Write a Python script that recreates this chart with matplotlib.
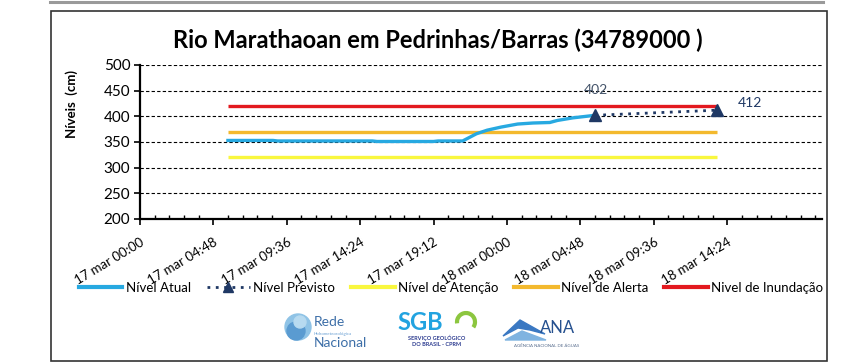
import matplotlib
matplotlib.use('Agg')
import matplotlib.pyplot as plt
from matplotlib.lines import Line2D
from matplotlib.ticker import FixedLocator, MultipleLocator
import matplotlib.patches as mpatches
import numpy as np

plt.rcParams['font.family'] = ['Lato', 'DejaVu Sans']

# hours counted from 17 mar 00:00
obs_hours = [5.75, 8.7, 9.0, 15.2, 15.5, 19.2, 19.5, 21.1, 22.0, 22.7, 23.6, 24.7, 25.7, 26.8, 27.3, 28.3, 29.75]
obs_level = [353, 353, 352, 352, 351, 351, 352, 352, 366, 373, 379, 385, 387, 388, 392, 397, 402]
fc_hours = [29.75, 37.75]
fc_level = [402, 412]
limit_hours = [5.75, 37.75]
attention_level = 320
alert_level = 370
flood_level = 420
tick_hours = [0, 4.8, 9.6, 14.4, 19.2, 24.0, 28.8, 33.6, 38.4]
tick_labels = ['17 mar 00:00', '17 mar 04:48', '17 mar 09:36', '17 mar 14:24', '17 mar 19:12',
               '18 mar 00:00', '18 mar 04:48', '18 mar 09:36', '18 mar 14:24']

C = {
    'obs': '#27a9e1',
    'fc': '#1f3864',
    'att': '#f9f73e',
    'alert': '#f3b92e',
    'flood': '#e3191f',
    'label': '#44546a',
}

W, H = 867, 362
def fx(px): return px / W
def fy(py): return 1 - py / H

fig = plt.figure(figsize=(W / 100, H / 100), dpi=100, facecolor='white')

# page frame
fig.add_artist(Line2D([fx(50), fx(823)], [fy(1.5), fy(1.5)], color='#9a9a9a', lw=2.2))
fig.add_artist(mpatches.Rectangle((fx(51), fy(360.5)), fx(827) - fx(51), fy(11) - fy(360.5),
                                  fill=False, edgecolor='#333333', lw=1.2, transform=fig.transFigure))

ax = fig.add_axes([fx(140), fy(219), fx(822) - fx(140), fy(65) - fy(219)])
ax.set_xlim(0, 44.6)
ax.set_ylim(200, 500)

ax.plot(limit_hours, [attention_level] * 2, color=C['att'], lw=2.4, solid_capstyle='butt', zorder=3)
ax.plot(limit_hours, [alert_level] * 2, color=C['alert'], lw=2.4, solid_capstyle='butt', zorder=3)
ax.plot(limit_hours, [flood_level] * 2, color=C['flood'], lw=2.4, solid_capstyle='butt', zorder=3)
ax.plot(obs_hours, obs_level, color=C['obs'], lw=2.4, zorder=4)
ax.plot(fc_hours, fc_level, color=C['fc'], lw=2, linestyle=(0, (1, 2)), marker='^', ms=8, zorder=5)

ax.annotate(str(fc_level[0]), (fc_hours[0], fc_level[0]), xytext=(1, 14), textcoords='offset points',
            ha='center', va='bottom', fontsize=10, color=C['label'])
ax.annotate(str(fc_level[1]), (fc_hours[1], fc_level[1]), xytext=(15, 5), textcoords='offset points',
            ha='left', va='center', fontsize=10, color=C['fc'])

ax.set_yticks(np.arange(200, 501, 50))
ax.yaxis.grid(True, linestyle=(0, (3, 2)), color='black', lw=0.8)
ax.set_axisbelow(True)
ax.xaxis.set_major_locator(FixedLocator(tick_hours))
ax.xaxis.set_minor_locator(MultipleLocator(0.96))
ax.set_xticklabels(tick_labels, rotation=31, ha='right', rotation_mode='anchor', fontsize=9.5)
ax.tick_params(axis='x', which='major', direction='out', length=4, width=1.2, pad=8)
ax.tick_params(axis='x', which='minor', direction='in', length=3, width=1)
ax.tick_params(axis='y', direction='out', length=4, width=1.2, labelsize=11, pad=3)
for s in ['top', 'right']:
    ax.spines[s].set_visible(False)
for s in ['left', 'bottom']:
    ax.spines[s].set_linewidth(1.6)

fig.text(fx(438), fy(40), 'Rio Marathaoan em Pedrinhas/Barras (34789000 )', ha='center', va='center',
         fontsize=17, fontweight='bold')
fig.text(fx(72), fy(104), 'Níveis  (cm)', rotation=90, ha='center', va='center',
         fontsize=9.5, fontweight='bold')

handles = [
    Line2D([], [], color=C['obs'], lw=3),
    Line2D([], [], color=C['fc'], lw=2, linestyle=(0, (1, 2)), marker='^', ms=7),
    Line2D([], [], color=C['att'], lw=3),
    Line2D([], [], color=C['alert'], lw=3),
    Line2D([], [], color=C['flood'], lw=3),
]
labels = ['Nível Atual', 'Nível Previsto', 'Nível de Atenção', 'Nível de Alerta', 'Nivel de Inundação']
fig.legend(handles, labels, loc='center', bbox_to_anchor=(fx(451), fy(288)), ncol=5, frameon=False,
           fontsize=9.5, handlelength=3.3, handletextpad=0.25, columnspacing=1.2)

# logos (rough)
for cx, cy, r, col in [(298, 327, 13, '#8fc3e6'), (296, 331, 9, '#5a9bd1'), (300, 322, 6, '#b7daf0')]:
    fig.add_artist(mpatches.Ellipse((fx(cx), fy(cy)), 2 * r / W, 2 * r / H, color=col,
                                    transform=fig.transFigure))
fig.text(fx(314), fy(322), 'Rede', fontsize=10, color='#3d6fa8', va='center')
fig.text(fx(314), fy(334), 'Hidrometeorológica', fontsize=3.2, color='#6aa0d3', va='center')
fig.text(fx(314), fy(343), 'Nacional', fontsize=10, color='#3d6fa8', va='center')

fig.text(fx(397), fy(323), 'SGB', fontsize=17, fontweight='bold', color='#22a3e0', va='center')
fig.add_artist(mpatches.Arc((fx(466), fy(322)), 18 / W, 18 / H, theta1=-60, theta2=200, lw=3,
                            color='#8cc63f', transform=fig.transFigure))
fig.text(fx(437), fy(338), 'SERVIÇO GEOLÓGICO', fontsize=4, fontweight='bold', color='#2b3a8f',
         ha='center', va='center')
fig.text(fx(437), fy(344), 'DO BRASIL - CPRM', fontsize=4, fontweight='bold', color='#2b3a8f',
         ha='center', va='center')

fig.add_artist(mpatches.Polygon([(fx(503), fy(336)), (fx(520), fy(320)), (fx(545), fy(334)),
                                 (fx(530), fy(330)), (fx(518), fy(328))], color='#3a78c2',
                                transform=fig.transFigure))
fig.add_artist(mpatches.Polygon([(fx(505), fy(340)), (fx(522), fy(331)), (fx(546), fy(340))],
                                color='#7fb3e0', transform=fig.transFigure))
fig.text(fx(540), fy(328), 'ANA', fontsize=12, color='#25508f', va='center')
fig.text(fx(547), fy(346), 'AGÊNCIA NACIONAL DE ÁGUAS', fontsize=3.2, color='#5a6f8f',
         ha='center', va='center')

fig.savefig('out.png', dpi=100, facecolor='white')
